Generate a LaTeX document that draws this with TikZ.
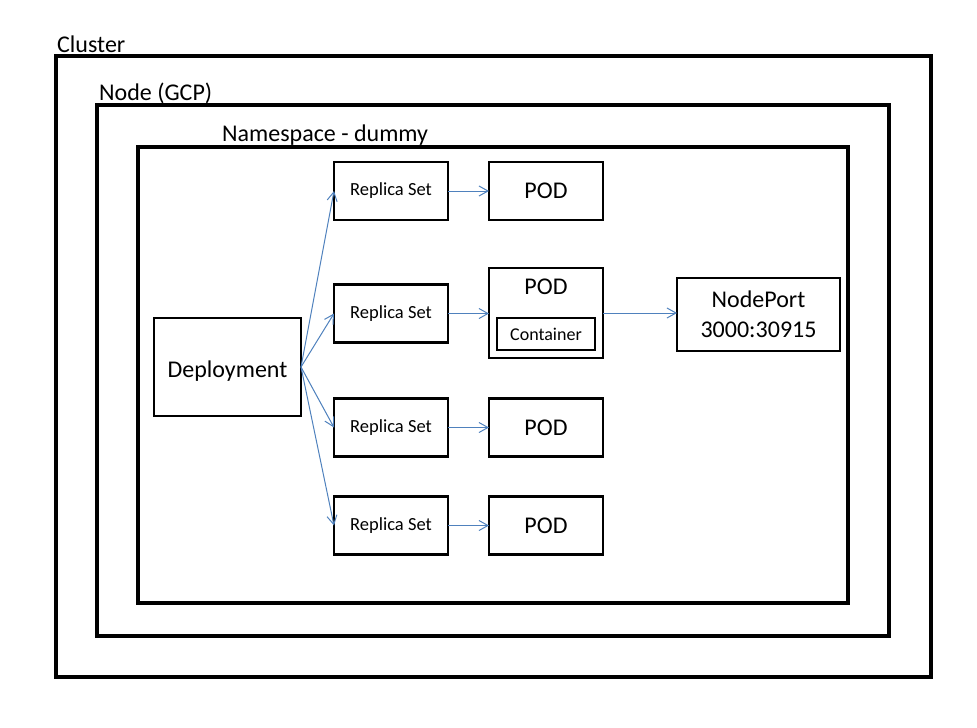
\documentclass[tikz,border=0pt]{standalone}
\usepackage{fontspec}
\setmainfont{Carlito}
\usetikzlibrary{positioning,arrows.meta}
\definecolor{linkblue}{RGB}{79,129,189}
\begin{document}
\begin{tikzpicture}[
  x=1pt,y=-1pt,
  frame/.style={draw,line width=3.2pt,inner sep=0pt,outer sep=0pt},
  lbl/.style={anchor=base west,inner sep=0pt,font=\fontsize{24}{28}\selectfont},
  box/.style={draw,line width=2.8pt,inner sep=0pt,outer sep=0pt,minimum width=114pt,minimum height=58pt},
  rsbox/.style={box,font=\fontsize{18.5}{22}\selectfont},
  podbox/.style={box,font=\fontsize{24}{28}\selectfont},
  flow/.style={draw=linkblue,line width=1pt,-{Straight Barb[length=9pt,width=10pt]}},
  node distance=41pt]
\useasboundingbox (0,0) rectangle (977,728);
% nested frames
\node[frame,minimum width=875pt,minimum height=621pt] (cluster) at (493.5,366.5) {};
\node[frame,minimum width=792pt,minimum height=531pt] (gcp) at (493,370.5) {};
\node[frame,minimum width=710pt,minimum height=456pt] (ns) at (493,375) {};
\node[lbl] (clusterlbl) at (57,52) {Cluster};
\node[lbl] (gcplbl) at (99,100) {Node (GCP)};
\node[lbl] (nslbl) at (222,141) {Namespace - dummy};
% deployment and replica sets
\node[box,minimum width=147pt,minimum height=98pt] (dep) at (227.5,367) {};
\node[font=\fontsize{24}{28}\selectfont,inner sep=0pt] (deplbl) at (227.5,371) {Deployment};
\node[rsbox] (rs1) at (391,191) {Replica Set};
\node[rsbox] (rs2) at (391,313.5) {Replica Set};
\node[rsbox] (rs3) at (391,427.5) {Replica Set};
\node[rsbox] (rs4) at (391,525.5) {Replica Set};
% pods
\node[podbox,right=of rs1] (pod1) {POD};
\node[box,minimum height=90pt] (pod2) at (546,313) {};
\node[anchor=north,inner sep=0pt,font=\fontsize{24}{28}\selectfont] (pod2lbl) at ([yshift=-11pt]pod2.north) {POD};
\node[draw,line width=2.8pt,inner sep=0pt,minimum width=98pt,minimum height=32pt,font=\fontsize{18}{22}\selectfont] (cont) at (546,334) {Container};
\node[podbox,right=of rs3] (pod3) {POD};
\node[podbox,right=of rs4] (pod4) {POD};
\node[box,minimum width=163pt,minimum height=73pt,align=center,font=\fontsize{24}{30}\selectfont] (nport) at (758.5,314.5) {NodePort\\3000:30915};
% connectors
\foreach \r in {rs1,rs2,rs3,rs4}
  \draw[flow] (dep.east) -- (\r.west);
\draw[flow] (rs1) -- (pod1);
\draw[flow] (rs2.east) -- (rs2.east -| pod2.west);
\draw[flow] (rs3) -- (pod3);
\draw[flow] (rs4) -- (pod4);
\draw[flow] (pod2.east) -- (pod2.east -| nport.west);
\end{tikzpicture}
\end{document}
